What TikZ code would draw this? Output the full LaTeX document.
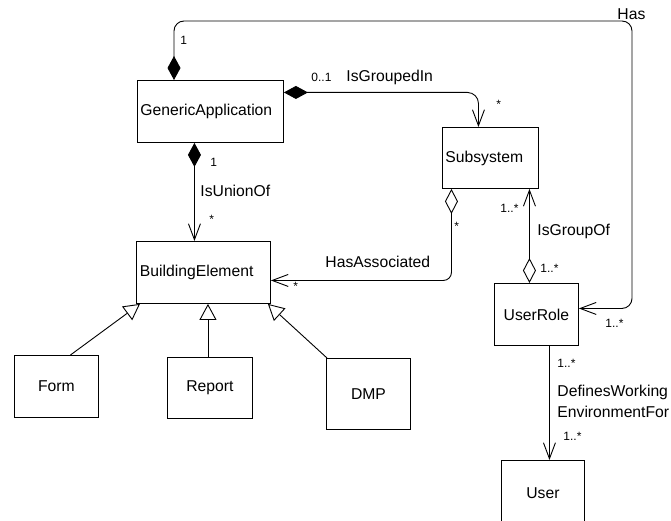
\documentclass[tikz,border=0pt]{standalone}
\usepackage{fontspec}
\setmainfont{Liberation Sans}
\usetikzlibrary{arrows.meta}

\tikzset{
  filldia/.tip={Diamond[length=24pt,width=13pt]},
  opendia/.tip={Diamond[open,length=25pt,width=13pt,fill=white]},
  barb/.tip={Straight Barb[length=16pt,width=12pt]},
  gen/.tip={Triangle[open,length=16pt,width=17pt,fill=white]},
  cls/.style={draw, anchor=north west, inner xsep=3pt, inner ysep=0pt,
    font=\fontsize{15.7}{18}\selectfont},
  wide/.style={align=left, text width=#1},
  lab/.style={anchor=base west, inner sep=0pt, font=\fontsize{15.7}{18}\selectfont},
  mul/.style={anchor=base west, inner sep=0pt, font=\fontsize{12}{14}\selectfont},
}

\begin{document}
\begin{tikzpicture}[x=1pt, y=-1pt, line width=0.9pt]
\useasboundingbox (0,0) rectangle (671,521);
\clip (0,0) rectangle (671,521);

% classes
\node[cls, wide=140pt, minimum width=146pt, minimum height=62pt] (ga) at (137,80) {GenericApplication};
\node[cls, wide=90pt, minimum width=96pt, minimum height=61pt] (ss) at (442,127) {Subsystem};
\node[cls, wide=127pt, inner xsep=3.5pt, minimum width=134pt, minimum height=62pt] (be) at (136,241) {BuildingElement};
\node[cls, minimum width=84pt, minimum height=62pt] (ur) at (494,283) {UserRole};
\node[cls, minimum width=84pt, minimum height=62pt] (form) at (14,355) {Form};
\node[cls, minimum width=85pt, minimum height=61pt] (rep) at (167,357) {Report};
\node[cls, minimum width=84pt, minimum height=71pt] (dmp) at (326,358) {DMP};
\node[cls, minimum width=83pt, minimum height=66pt] (user) at (501,460) {User};

% Has
\coordinate (hA) at ([xshift=37pt]ga.north west);
\coordinate (hC) at (632,21);
\draw[filldia-barb, rounded corners=10pt] (hA) |- (hC) |- ([yshift=6pt]ur.east);

% IsGroupedIn
\draw[filldia-barb, rounded corners=11pt] ([yshift=19pt]ga.east) -| ([xshift=-12pt]ss.north);

% IsUnionOf
\coordinate (uA) at ([xshift=-16pt]ga.south);
\draw[filldia-barb] (uA) -- (uA |- be.north);

% HasAssociated
\draw[opendia-barb, rounded corners=8pt] ([xshift=-39pt]ss.south) |- ([yshift=-8pt]be.east);

% IsGroupOf
\coordinate (gA) at ([xshift=-7pt]ur.north);
\draw[opendia-barb] (gA) -- (gA |- ss.south);

% DefinesWorkingEnvironmentFor
\coordinate (dA) at ([xshift=13pt]ur.south);
\draw[-barb] (dA) -- (dA |- user.north);

% generalisations
\draw[-gen] ([xshift=14pt]form.north) -- ([xshift=4pt]be.south west);
\coordinate (rA) at ([xshift=-2pt]rep.north);
\draw[-gen] (rA) -- (rA |- be.south);
\draw[-gen] ([xshift=1pt]dmp.north west) -- ([xshift=-3pt]be.south east);

% association names and multiplicities
\node[lab] (t-has) at (617,20) {Has};
\node[mul] (m-has1) at (180,45) {1};
\node[mul] (m-has2) at (605,327) {1..*};
\node[mul] (m-grp1) at (311,82) {0..1};
\node[lab] (t-grp) at (346,82) {IsGroupedIn};
\node[mul] (m-grp2) at (496,109) {*};
\node[mul] (m-uni1) at (210,167) {1};
\node[lab] (t-uni) at (200,197) {IsUnionOf};
\node[mul] (m-uni2) at (209,224) {*};
\node[lab] (t-ass) at (325,267) {HasAssociated};
\node[mul] (m-ass1) at (454,230) {*};
\node[mul] (m-ass2) at (293,290) {*};
\node[mul] (m-gof1) at (500,212) {1..*};
\node[lab] (t-gof) at (537,235) {IsGroupOf};
\node[mul] (m-gof2) at (540,272) {1..*};
\node[mul] (m-def1) at (557,367) {1..*};
\node[lab] (t-def1) at (557,396) {DefinesWorking};
\node[lab] (t-def2) at (557,417) {EnvironmentFor};
\node[mul] (m-def2) at (563,440) {1..*};
\end{tikzpicture}
\end{document}
